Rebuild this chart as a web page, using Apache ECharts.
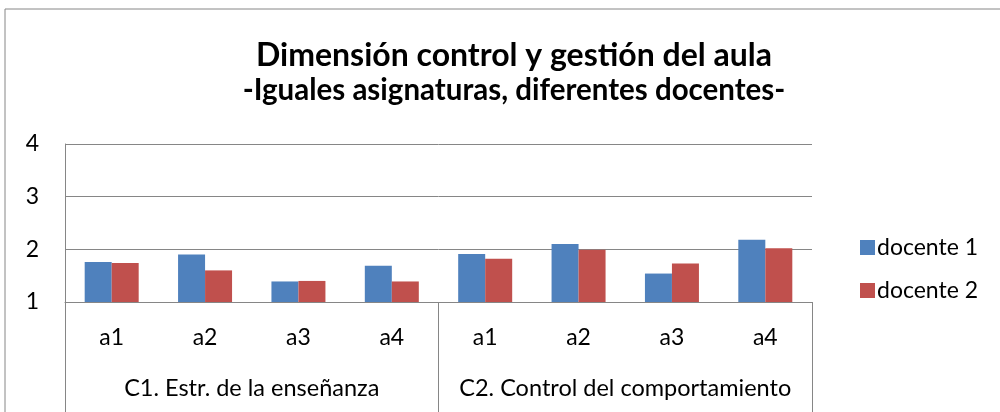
<!DOCTYPE html>
<html>
<head>
<meta charset="utf-8">
<script src="https://cdn.jsdelivr.net/npm/echarts@6/dist/echarts.min.js"></script>
<style>
  html, body { margin: 0; padding: 0; background: #fff; }
  #chart { width: 1000px; height: 412px; }
</style>
</head>
<body>
<div id="chart"></div>
<script>
// datos
var subjects = ['a1', 'a2', 'a3', 'a4', 'a1', 'a2', 'a3', 'a4'];
var groups = ['C1. Estr. de la enseñanza', 'C2. Control del comportamiento'];
var docente1 = [1.76, 1.90, 1.39, 1.69, 1.91, 2.10, 1.54, 2.18];
var docente2 = [1.74, 1.60, 1.40, 1.39, 1.82, 1.99, 1.73, 2.02];
var seriesNames = ['docente 1', 'docente 2'];

var myChart = echarts.init(document.getElementById('chart'));
var font = 'Lato';
var lineColor = '#868686';

var option = {
  animation: false,
  title: {
    text: 'Dimensión control y gestión del aula',
    subtext: '-Iguales asignaturas, diferentes docentes-',
    left: 509,
    textAlign: 'center',
    top: 31,
    itemGap: -3,
    textStyle: { fontFamily: font, fontSize: 32, fontWeight: 'bold', color: '#000', lineHeight: 40 },
    subtextStyle: { fontFamily: font, fontSize: 29.5, fontWeight: 'bold', color: '#000', lineHeight: 34 }
  },
  legend: {
    orient: 'vertical',
    left: 855,
    top: 231,
    itemWidth: 15,
    itemHeight: 15,
    itemGap: 20,
    icon: 'rect',
    data: seriesNames,
    textStyle: { fontFamily: font, fontSize: 23, color: '#000', padding: [0, 0, 0, -3] }
  },
  grid: { left: 65, right: 188, top: 144, bottom: 110 },
  xAxis: [
    {
      type: 'category',
      data: subjects,
      position: 'bottom',
      axisLine: { lineStyle: { color: lineColor } },
      axisTick: { show: false },
      axisLabel: { interval: 0, fontFamily: font, fontSize: 23, color: '#000', margin: 24 }
    },
    {
      type: 'category',
      data: groups,
      position: 'bottom',
      axisLine: { show: false },
      axisTick: { show: true, length: 110, interval: 0, lineStyle: { color: lineColor } },
      axisLabel: { interval: 0, hideOverlap: false, fontFamily: font, fontSize: 23.5, color: '#000', margin: 74 }
    }
  ],
  yAxis: {
    type: 'value',
    min: 1,
    max: 4,
    interval: 1,
    axisLine: { show: true, lineStyle: { color: lineColor } },
    axisTick: { show: false },
    splitLine: { lineStyle: { color: lineColor } },
    axisLabel: { fontFamily: font, fontSize: 23, color: '#000', margin: 26 }
  },
  graphic: [
    {
      type: 'rect',
      shape: { x: 5, y: 9, width: 1200, height: 600 },
      style: { fill: 'none', stroke: lineColor, lineWidth: 1 }
    }
  ],
  series: [
    {
      name: seriesNames[0],
      type: 'bar',
      data: docente1,
      barWidth: 27,
      barGap: '0%',
      itemStyle: { color: '#4F81BD' }
    },
    {
      name: seriesNames[1],
      type: 'bar',
      data: docente2,
      barWidth: 27,
      barGap: '0%',
      itemStyle: { color: '#C0504D' }
    }
  ]
};

myChart.setOption(option);
</script>
</body>
</html>
